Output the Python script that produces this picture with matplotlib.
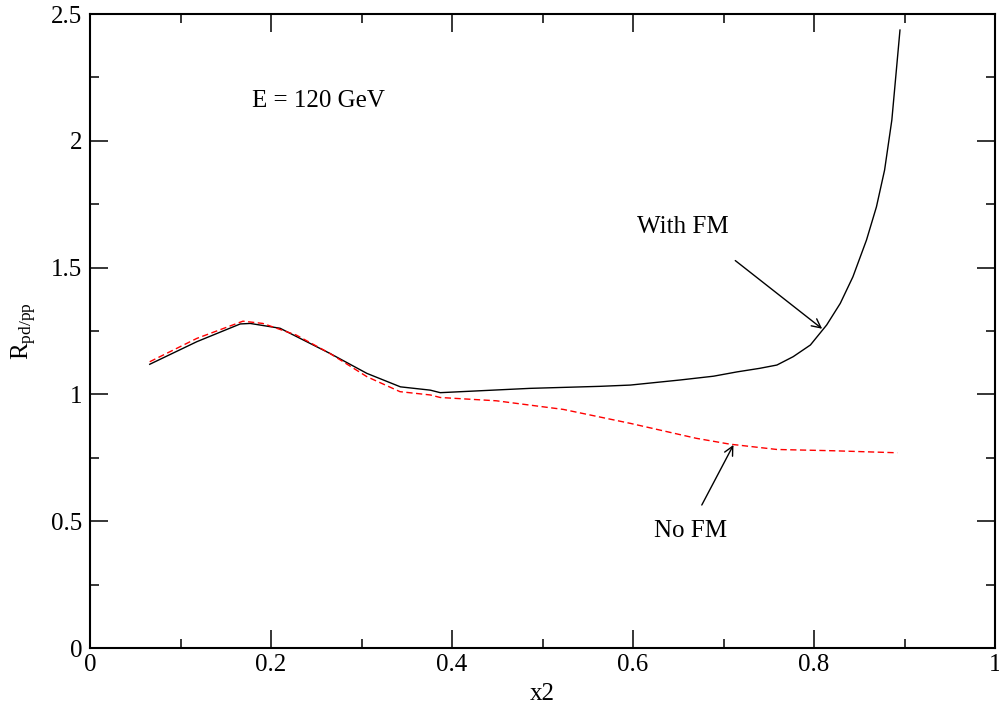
import numpy as np
import matplotlib
matplotlib.use("Agg")
import matplotlib.pyplot as plt
from matplotlib.ticker import MultipleLocator, FuncFormatter

# With FM curve (black, solid)
x_fm = [0.066, 0.118, 0.166, 0.177, 0.210, 0.265, 0.306, 0.343, 0.376, 0.387,
        0.486, 0.5635, 0.597, 0.652, 0.689, 0.715, 0.740, 0.759, 0.777, 0.796,
        0.814, 0.829, 0.843, 0.858, 0.869, 0.878, 0.886, 0.891, 0.895]
y_fm = [1.119, 1.208, 1.278, 1.280, 1.261, 1.162, 1.083, 1.030, 1.017, 1.007,
        1.024, 1.032, 1.037, 1.057, 1.072, 1.089, 1.103, 1.116, 1.149, 1.195,
        1.274, 1.359, 1.464, 1.609, 1.740, 1.885, 2.082, 2.279, 2.437]

# No FM curve (red, dashed)
x_nofm = [0.066, 0.118, 0.169, 0.191, 0.228, 0.265, 0.306, 0.3425, 0.376, 0.387,
          0.449, 0.523, 0.597, 0.670, 0.707, 0.759, 0.821, 0.892]
y_nofm = [1.129, 1.221, 1.289, 1.280, 1.234, 1.162, 1.070, 1.011, 0.998, 0.988,
          0.975, 0.941, 0.886, 0.827, 0.804, 0.783, 0.778, 0.770]

plt.rcParams['font.family'] = ['Liberation Serif', 'DejaVu Serif']
plt.rcParams['mathtext.fontset'] = 'custom'
plt.rcParams['mathtext.rm'] = 'Liberation Serif'
plt.rcParams['mathtext.it'] = 'Liberation Serif'

fig = plt.figure(figsize=(9.99, 7.04), dpi=100)
ax = fig.add_axes([0.0901, 0.0795, 0.9059, 0.9005])

ax.plot(x_fm, y_fm, color='black', lw=1.0)
ax.plot(x_nofm, y_nofm, color='red', lw=1.0, dashes=(4.5, 2.5))

ax.set_xlim(0, 1)
ax.set_ylim(0, 2.5)
ax.xaxis.set_major_locator(MultipleLocator(0.2))
ax.xaxis.set_minor_locator(MultipleLocator(0.1))
ax.yaxis.set_major_locator(MultipleLocator(0.5))
ax.yaxis.set_minor_locator(MultipleLocator(0.25))
fmt = FuncFormatter(lambda v, p: '%g' % round(v, 2))
ax.xaxis.set_major_formatter(fmt)
ax.yaxis.set_major_formatter(fmt)

ax.tick_params(which='both', direction='in', top=True, right=True,
               labelsize=18, width=1.1)
ax.tick_params(which='major', length=13)
ax.tick_params(which='minor', length=6.5)
ax.tick_params(axis='x', pad=4)
ax.tick_params(axis='y', pad=5.5)
for s in ax.spines.values():
    s.set_linewidth(1.5)

ax.set_xlabel('x2', fontsize=18, va='baseline')
ax.xaxis.set_label_coords(0.5, -0.082)
ax.set_ylabel(r'R$_{\mathrm{pd/pp}}$', fontsize=18)
ax.yaxis.set_label_coords(-0.056, 0.5)

ax.text(0.179, 2.132, 'E = 120 GeV', fontsize=18, va='baseline', ha='left')
ax.text(0.604, 1.635, 'With FM', fontsize=18, va='baseline', ha='left')
ax.text(0.623, 0.439, 'No FM', fontsize=18, va='baseline', ha='left')

ax.annotate('', xy=(0.809, 1.259), xytext=(0.713, 1.528),
            arrowprops=dict(arrowstyle='->', color='black', lw=1.0,
                            shrinkA=0, shrinkB=0, mutation_scale=16))
ax.annotate('', xy=(0.711, 0.801), xytext=(0.676, 0.564),
            arrowprops=dict(arrowstyle='->', color='black', lw=1.0,
                            shrinkA=0, shrinkB=0, mutation_scale=16))

fig.savefig('out.png', dpi=100)
